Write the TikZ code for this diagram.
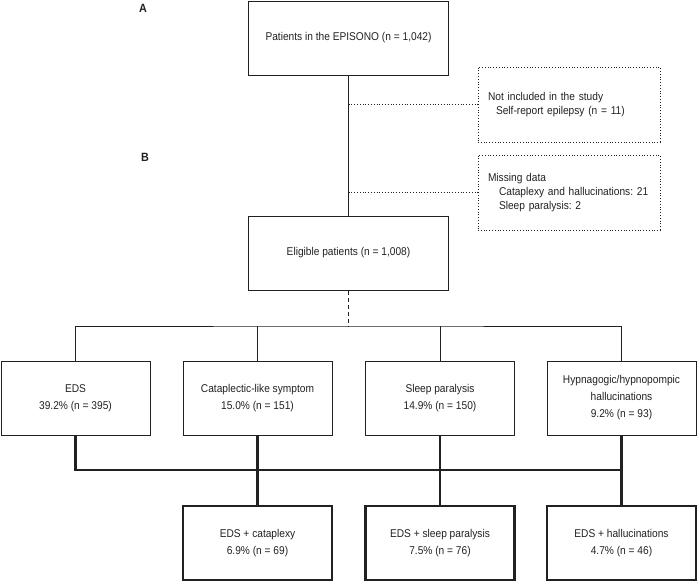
\documentclass[tikz,border=0pt]{standalone}
\usepackage{fontspec}
\setmainfont{Liberation Sans}[FakeStretch=0.9]
\usepackage{tikz}
\definecolor{ink}{rgb}{0.13, 0.13, 0.13}

\begin{document}
\frenchspacing
\begin{tikzpicture}[x=1pt, y=-1pt,
  every node/.style={text=ink, font=\fontsize{11.3}{17}\selectfont},
  box/.style={draw=ink, line width=1pt, minimum width=149pt, minimum height=74pt, align=center, inner sep=0pt},
  wide/.style={box, minimum width=200pt},
  result/.style={box, line width=2.4pt},
  aside/.style={draw=ink, line width=1pt, dash pattern=on 1pt off 1.8pt, minimum width=182pt, minimum height=75pt, text width=162pt, inner xsep=10pt, inner ysep=0pt, align=left, font=\fontsize{11.3}{14}\selectfont},
  link/.style={draw=ink, line width=1pt},
  bold link/.style={draw=ink, line width=2.4pt}]
\useasboundingbox (0, 0) rectangle (698, 582);
\node [font=\bfseries\fontsize{12}{12}\selectfont] (labA) at (143, 8) {A};
\node [font=\bfseries\fontsize{12}{12}\selectfont] (labB) at (145, 157) {B};
\node [wide] (all) at (348.5, 38) {Patients in the EPISONO (n = 1,042)};
\node [aside] (excl) at (569, 104.5) {Not included in the study\\\hspace*{8pt}Self-report epilepsy (n = 11)};
\node [aside] (miss) at (569, 192.5) {Missing data\\\hspace*{11pt}Cataplexy and hallucinations: 21\\\hspace*{11pt}Sleep paralysis: 2};
\node [wide] (elig) at (348.5, 253) {Eligible patients (n = 1,008)};
% symptoms
\node [box] (eds) at (75.5, 398) {EDS\\39.2\% (n = 395)};
\node [box] (cat) at (257.5, 398) {Cataplectic-like symptom\\15.0\% (n = 151)};
\node [box] (slp) at (440, 398) {Sleep paralysis\\14.9\% (n = 150)};
\node [box] (hal) at (621.5, 398) {Hypnagogic/hypnopompic\\hallucinations\\9.2\% (n = 93)};
% EDS combined
\node [result] (edscat) at (257.5, 543) {EDS + cataplexy\\6.9\% (n = 69)};
\node [result] (edsslp) at (440, 543) {EDS + sleep paralysis\\7.5\% (n = 76)};
\node [result] (edshal) at (621.5, 543) {EDS + hallucinations\\4.7\% (n = 46)};
\coordinate (split) at (348.5, 326);
\coordinate (join) at (348.5, 470);
\draw [link] (all) -- (elig);
\draw [link, dash pattern=on 1pt off 1.8pt] (all.south |- excl.west) -- (excl.west);
\draw [link, dash pattern=on 1pt off 1.8pt] (all.south |- miss.west) -- (miss.west);
\draw [link, dash pattern=on 4pt off 3pt] (elig) -- (split);
\draw [link] (eds.north) |- (split) -| (hal.north);
\draw [link] (cat.north) -- (cat.north |- split);
\draw [link] (slp.north) -- (slp.north |- split);
\draw [bold link] (eds.south) |- (hal.south |- join);
\foreach \a/\b in {cat/edscat, slp/edsslp, hal/edshal}
  \draw [bold link] (\a) -- (\b);
\end{tikzpicture}
\end{document}
